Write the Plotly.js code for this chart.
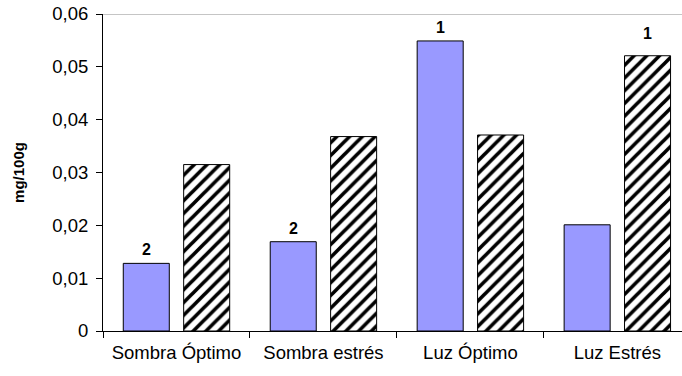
<!DOCTYPE html>
<html>
<head>
<meta charset="utf-8">
<script src="https://cdn.plot.ly/plotly-3.0.1.min.js"></script>
<style>html,body{margin:0;padding:0;background:#fff;}#chart{width:682px;height:376px;}</style>
</head>
<body>
<div id="chart"></div>
<script>
const categories = ["Sombra Óptimo", "Sombra estrés", "Luz Óptimo", "Luz Estrés"];
const seriesA = [0.0128, 0.0169, 0.0549, 0.0201];
const seriesB = [0.0315, 0.0368, 0.0371, 0.0521];
const labelsA = ["2", "2", "1", ""];
const labelsB = ["", "", "", "1"];
const yTicks = [0, 0.01, 0.02, 0.03, 0.04, 0.05, 0.06];
const yTickText = ["0", "0,01", "0,02", "0,03", "0,04", "0,05", "0,06"];

const font = "Liberation Sans, Arial, sans-serif";

const traces = [
  {
    type: "bar", x: categories, y: seriesA, name: "A",
    marker: {color: "#9999FF", line: {color: "#000", width: 1}}
  },
  {
    type: "bar", x: categories, y: seriesB, name: "B",
    marker: {color: "#fff", line: {color: "#000", width: 1},
      pattern: {shape: "/", fgcolor: "#000", bgcolor: "#fff", size: 9, solidity: 0.4}}
  }
];

const annotations = [];
categories.forEach((c, i) => {
  if (labelsA[i]) annotations.push({x: c, y: seriesA[i], text: "<b>" + labelsA[i] + "</b>", showarrow: false,
    xshift: -30, yshift: 3, yanchor: "bottom", font: {family: font, size: 16, color: "#000"}});
  if (labelsB[i]) annotations.push({x: c, y: seriesB[i], text: "<b>" + labelsB[i] + "</b>", showarrow: false,
    xshift: 30, yshift: 12, yanchor: "bottom", font: {family: font, size: 16, color: "#000"}});
});

const layout = {
  width: 682, height: 376,
  margin: {l: 103, r: 0, t: 14, b: 45},
  paper_bgcolor: "#fff", plot_bgcolor: "#fff",
  showlegend: false,
  barmode: "group", bargap: 0.178, bargroupgap: 0.238,
  font: {family: font, size: 18, color: "#000"},
  xaxis: {
    type: "category", range: [-0.5, 3.44], showgrid: false, zeroline: false,
    showline: true, linecolor: "#000", linewidth: 1,
    ticks: "outside", ticklen: 6, tickcolor: "#000", tickson: "boundaries",
    ticklabelstandoff: 5,
    tickfont: {family: font, size: 18.5, color: "#000"}
  },
  yaxis: {
    range: [0, 0.06], tickvals: yTicks, ticktext: yTickText, showgrid: false, zeroline: false,
    showline: true, linecolor: "#000", linewidth: 1,
    ticks: "outside", ticklen: 6, tickcolor: "#000",
    ticklabelstandoff: 4,
    tickfont: {family: font, size: 18.5, color: "#000"},
    title: {text: "<b>mg/100g</b>", font: {family: font, size: 15, color: "#000"}, standoff: 24}
  },
  shapes: [{type: "line", xref: "paper", yref: "y", x0: 0, x1: 1, y0: 0.06, y1: 0.06,
    line: {color: "#8c8c8c", width: 1}}],
  annotations: annotations
};

Plotly.newPlot("chart", traces, layout, {displayModeBar: false, staticPlot: true});
</script>
</body>
</html>
